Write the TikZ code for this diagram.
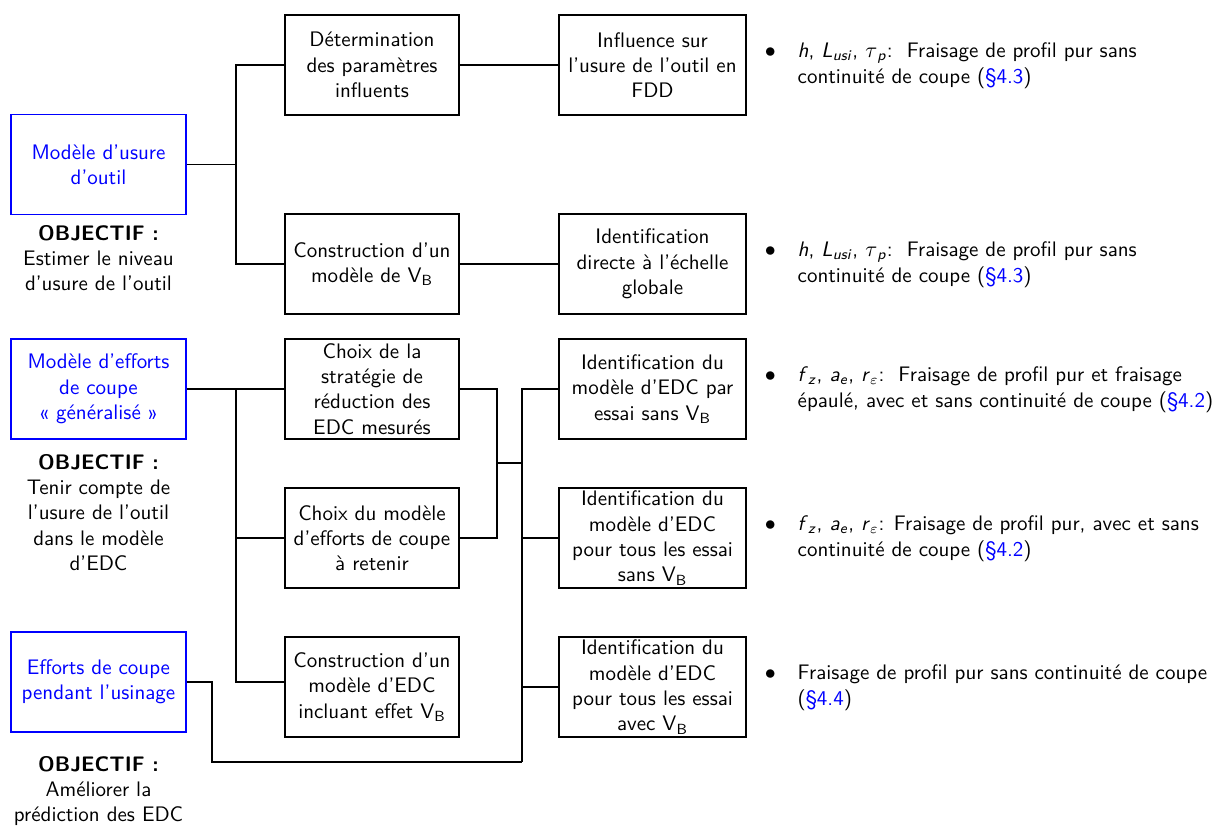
\documentclass[tikz,border=0pt]{standalone}
\usepackage{tikz}
\usetikzlibrary{positioning, calc}
\renewcommand{\familydefault}{\sfdefault}
\newcommand{\puces}[2]{\renewcommand{\arraystretch}{1.05}\begin{tabular}{@{}l@{\hspace{11pt}}l@{}}$\bullet$ & #1\\ & #2\end{tabular}}
\newcommand{\sect}[1]{(\textcolor{blue}{\S#1})}

\begin{document}
\begin{tikzpicture}[x=0.5pt, y=-0.5pt, line width=0.75pt,
    every node/.style={font=\fontsize{10.5}{12.65}\selectfont, align=center, inner sep=1pt},
    bloc/.style={draw, minimum width=87pt, minimum height=50pt},
    blocB/.style={draw, minimum width=93.5pt, minimum height=50pt},
    entree/.style={draw=blue, text=blue, minimum width=87.5pt, minimum height=50pt},
    puce/.style={anchor=west, align=left, inner sep=0pt}]
        \useasboundingbox (0,0) rectangle (1219,825);

        % 1. Left column: the three goals
        \node[entree] (usure) at (98.5,164.5) {Modèle d'usure\\d'outil};
        \node (obj1) at (98.5,258) {\textbf{OBJECTIF :}\\Estimer le niveau\\d'usure de l'outil};
        \node[entree] (efforts) at (98.5,389) {Modèle d'efforts\\de coupe\\«~généralisé~»};
        \node (obj2) at (98.5,512.5) {\textbf{OBJECTIF :}\\Tenir compte de\\l'usure de l'outil\\dans le modèle\\d'EDC};
        \node[entree] (mesure) at (98.5,682) {Efforts de coupe\\pendant l'usinage};
        \node (obj3) at (98.5,791) {\textbf{OBJECTIF :}\\Améliorer la\\prédiction des EDC};

        % 2. Middle column
        \node[bloc] (param) at (372,65) {Détermination\\des paramètres\\influents};
        \node[bloc] (modVB) at (372,264) {Construction d'un\\modèle de V\textsubscript{B}};
        \node[bloc] (strat) at (372,389) {Choix de la\\stratégie de\\réduction des\\EDC mesurés};
        \node[bloc] (choix) at (372,538) {Choix du modèle\\d'efforts de coupe\\à retenir};
        \node[bloc] (modEDC) at (372,687) {Construction d'un\\modèle d'EDC\\incluant effet V\textsubscript{B}};

        % 3. Right column
        \node[blocB] (influ) at (652.5,65) {Influence sur\\l'usure de l'outil en\\FDD};
        \node[blocB] (ident) at (652.5,264) {Identification\\directe à l'échelle\\globale};
        \node[blocB] (idSans) at (652.5,389) {Identification du\\modèle d'EDC par\\essai sans V\textsubscript{B}};
        \node[blocB] (idTous) at (652.5,538) {Identification du\\modèle d'EDC\\pour tous les essai\\sans V\textsubscript{B}};
        \node[blocB] (idAvec) at (652.5,687) {Identification du\\modèle d'EDC\\pour tous les essai\\avec V\textsubscript{B}};

        % 4. Bullet notes
        \node[puce] (note1) at (764,65) {\puces{\textit{h}, \textit{L}\textsubscript{\textit{usi}}, $\tau$\textsubscript{\textit{p}}:~~Fraisage de profil pur sans}{continuité de coupe \sect{4.3}}};
        \node[puce] (note2) at (764,264) {\puces{\textit{h}, \textit{L}\textsubscript{\textit{usi}}, $\tau$\textsubscript{\textit{p}}:~~Fraisage de profil pur sans}{continuité de coupe \sect{4.3}}};
        \node[puce] (note3) at (764,389) {\puces{\textit{f}\textsubscript{\textit{z}}, \textit{a}\textsubscript{\textit{e}}, \textit{r}\textsubscript{$\varepsilon$}:~~Fraisage de profil pur et fraisage}{épaulé, avec et sans continuité de coupe \sect{4.2}}};
        \node[puce] (note4) at (764,538) {\puces{\textit{f}\textsubscript{\textit{z}}, \textit{a}\textsubscript{\textit{e}}, \textit{r}\textsubscript{$\varepsilon$}: Fraisage de profil pur, avec et sans}{continuité de coupe \sect{4.2}}};
        \node[puce] (note5) at (764,687) {\puces{Fraisage de profil pur sans continuité de coupe}{\sect{4.4}}};

        % 5. Links of the tool wear branch
        \coordinate (bus1) at (236,164.5);
        \draw (usure) -- (bus1);
        \draw (param.west) -| (bus1) |- (modVB.west);
        \draw (param) -- (influ);
        \draw (modVB) -- (ident);

        % 6. Links of the cutting force branch
        \coordinate (bus2h) at (236,389);
        \coordinate (bus2b) at (236,682);
        \draw (efforts) -- (strat);
        \draw (bus2h) -- (bus2b) -- (modEDC.west |- bus2b);
        \draw (choix.west) -- (choix.west -| bus2h);
        \coordinate (junc) at (497,463);
        \draw (strat.east) -| (junc) |- (choix.east);
        \coordinate (bus3h) at (522,389);
        \coordinate (bus3b) at (522,762);
        \draw (junc) -- (junc -| bus3h);
        \draw (idSans.west) -- (bus3h) -- (bus3b);
        \draw (idTous.west) -- (idTous.west -| bus3h);
        \draw (idAvec.west) -- (idAvec.west -| bus3h);
        \draw (mesure.east) -- ++(25,0) |- (bus3b);

    \end{tikzpicture}
\end{document}
